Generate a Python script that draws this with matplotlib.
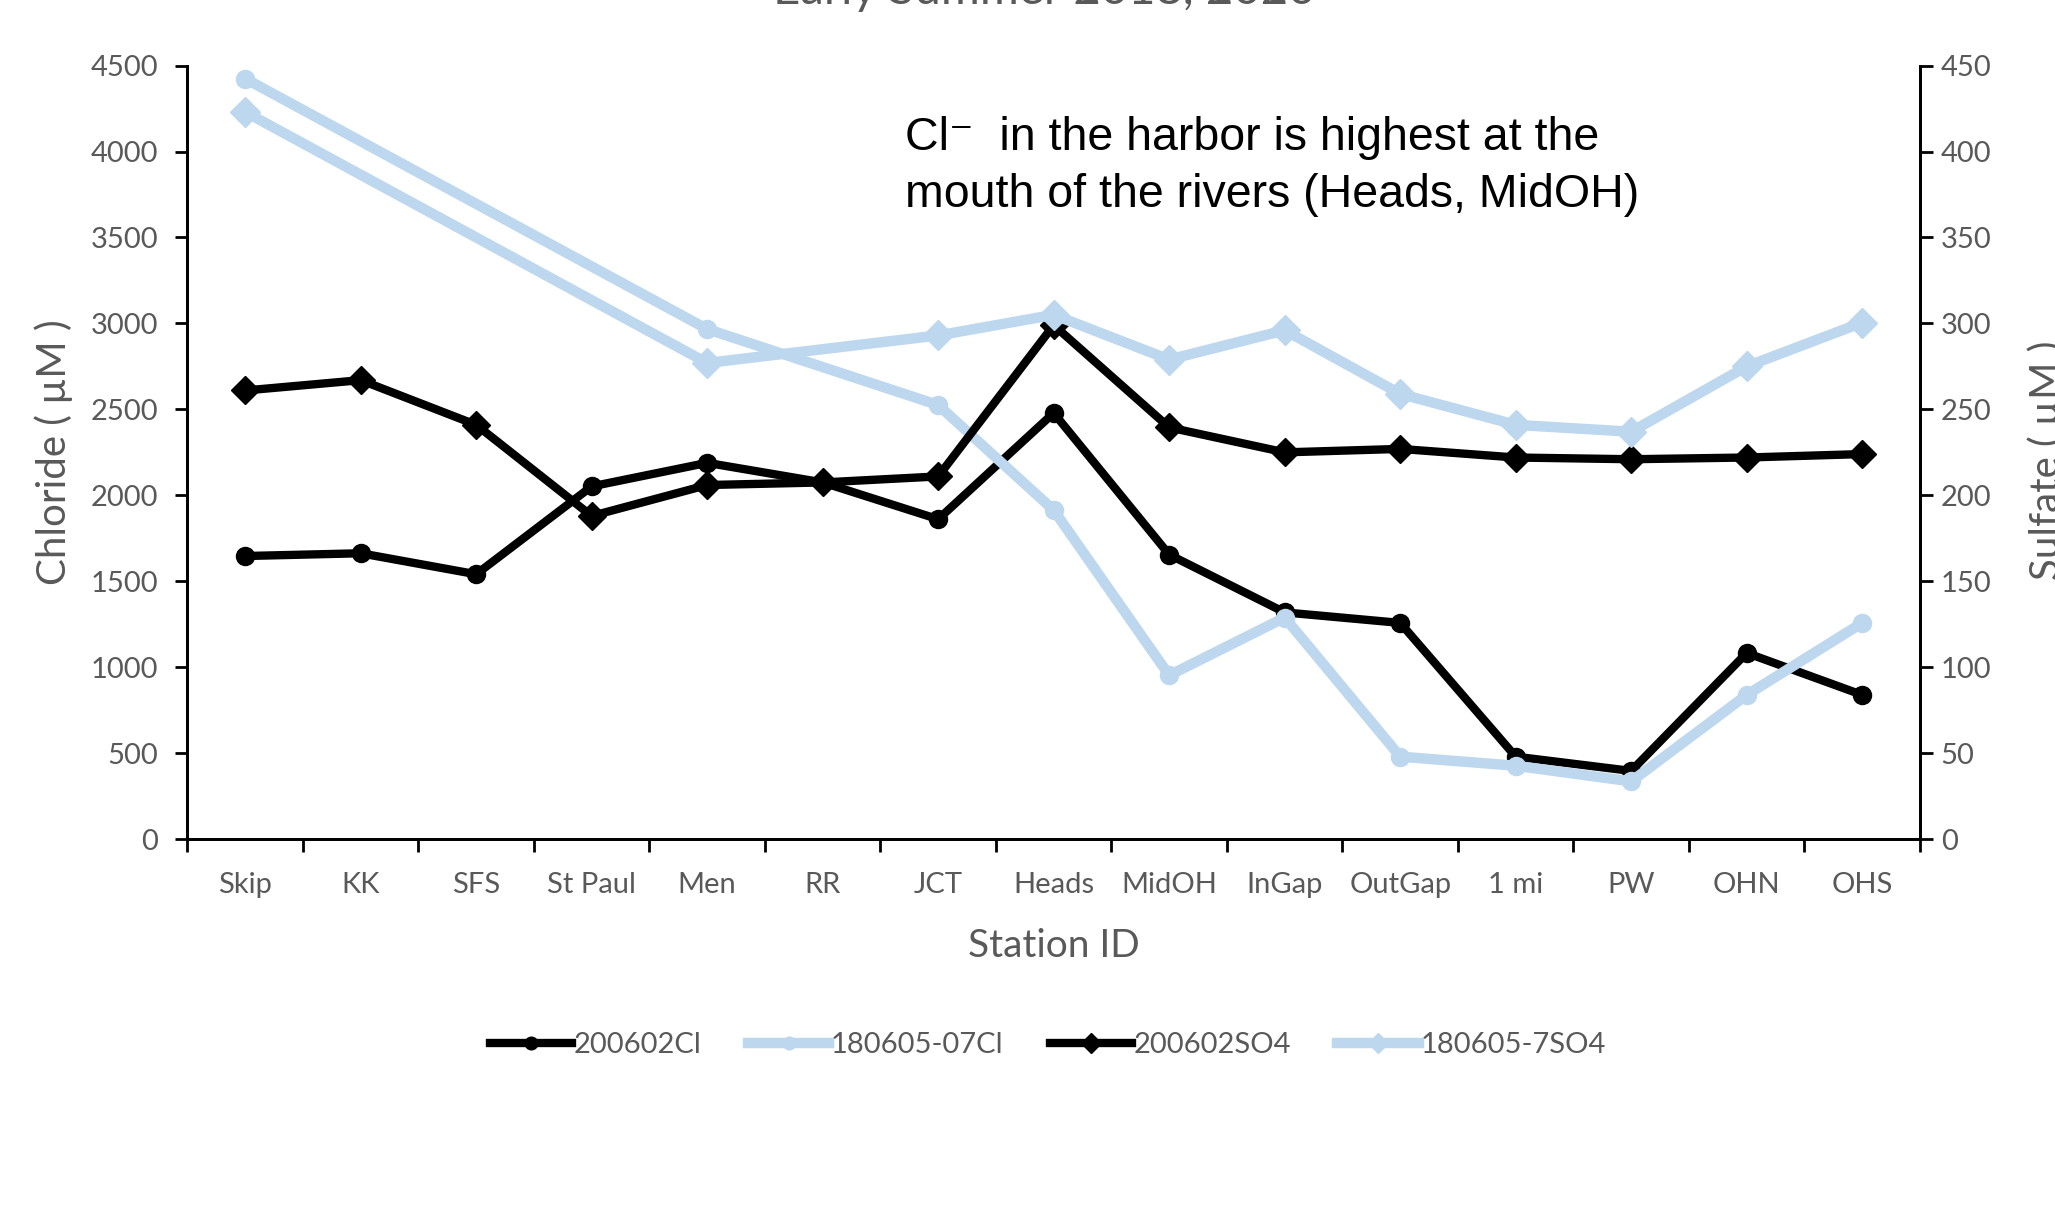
import matplotlib.pyplot as plt
import numpy as np

# station categories
stations = ["Skip", "KK", "SFS", "St Paul", "Men", "RR", "JCT", "Heads",
            "MidOH", "InGap", "OutGap", "1 mi", "PW", "OHN", "OHS"]

# chloride (uM), left axis
cl_200602 = [1647, 1663, 1541, 2052, 2189, 2075, 1861, 2479,
             1655, 1319, 1258, 480, 397, 1083, 839]
cl_180605 = [4424, None, None, None, 2967, None, 2525, 1914,
             953, 1289, 480, 427, 336, 839, 1258]

# sulfate (uM), right axis
so4_200602 = [261, 267, 241, 188, 206, 207.5, 211, 299,
              239.5, 225, 227, 222, 221, 222, 224]
so4_180605 = [423, None, None, None, 277, None, 293, 305,
              279, 296, 259, 241, 237, 275, 300.5]

GRAY = "#595959"
LBLUE = "#BDD7EE"
plt.rcParams['font.family'] = ['Lato', 'DejaVu Sans']


def xy(vals):
    # drop missing points so the line connects across gaps (like Excel)
    pts = [(i, v) for i, v in enumerate(vals) if v is not None]
    return [p[0] for p in pts], [p[1] for p in pts]


fig = plt.figure(figsize=(20.55, 12.05), dpi=100)
ax = fig.add_axes([0.0912, 0.3036, 0.8431, 0.642])
ax2 = ax.twinx()

h1, = ax.plot(*xy(cl_200602), color="black", lw=6, marker="o", ms=13, label="200602Cl")
h2, = ax.plot(*xy(cl_180605), color=LBLUE, lw=7.5, marker="o", ms=13, label="180605-07Cl")
h3, = ax2.plot(*xy(so4_200602), color="black", lw=6, marker="D", ms=14, label="200602SO4")
h4, = ax2.plot(*xy(so4_180605), color=LBLUE, lw=7.5, marker="D", ms=15, label="180605-7SO4")

ax.set_xlim(-0.5, len(stations) - 0.5)
ax.set_ylim(0, 4500)
ax2.set_ylim(0, 450)
ax.set_yticks(np.arange(0, 4501, 500))
ax2.set_yticks(np.arange(0, 451, 50))

ax.set_xticks(range(len(stations)))
ax.set_xticklabels(stations)
ax.set_xticks(np.arange(-0.5, len(stations), 1), minor=True)
ax.tick_params(axis="x", which="major", length=0, pad=24, labelsize=21, labelcolor=GRAY)
ax.tick_params(axis="x", which="minor", length=9, width=2, direction="out")
ax.tick_params(axis="y", length=9, width=2, labelsize=21, labelcolor=GRAY, pad=12)
ax2.tick_params(axis="y", length=9, width=2, labelsize=21, labelcolor=GRAY, pad=6)

for a in (ax, ax2):
    a.spines["top"].set_visible(False)
    for s in ("left", "right", "bottom"):
        a.spines[s].set_linewidth(2)

ax.set_xlabel("Station ID", fontsize=28, color=GRAY, labelpad=21)
ax.set_ylabel("Chloride ( \u00b5M )", fontsize=29, color=GRAY)
ax2.set_ylabel("Sulfate ( \u00b5M )", fontsize=29, color=GRAY, rotation=90)
ax.yaxis.set_label_coords(-0.066, 0.5)
ax2.yaxis.set_label_coords(1.062, 0.49)

ax.text(0.414, 0.935, "Cl\u207b  in the harbor is highest at the\nmouth of the rivers (Heads, MidOH)",
        transform=ax.transAxes, fontsize=33.5, family=["Liberation Sans", "DejaVu Sans"],
        va="top", ha="left", linespacing=1.4)

fig.text(0.508, 0.9965, "Early Summer 2018, 2020", ha="center", va="baseline",
         fontsize=34, color=GRAY)

fig.legend(handles=[h1, h2, h3, h4], loc="center", bbox_to_anchor=(0.51, 0.133),
           ncol=4, frameon=False, fontsize=21, labelcolor=GRAY,
           handlelength=2.8, handletextpad=0.05, columnspacing=1.6, markerscale=0.7)

fig.savefig("out.png", dpi=100)
